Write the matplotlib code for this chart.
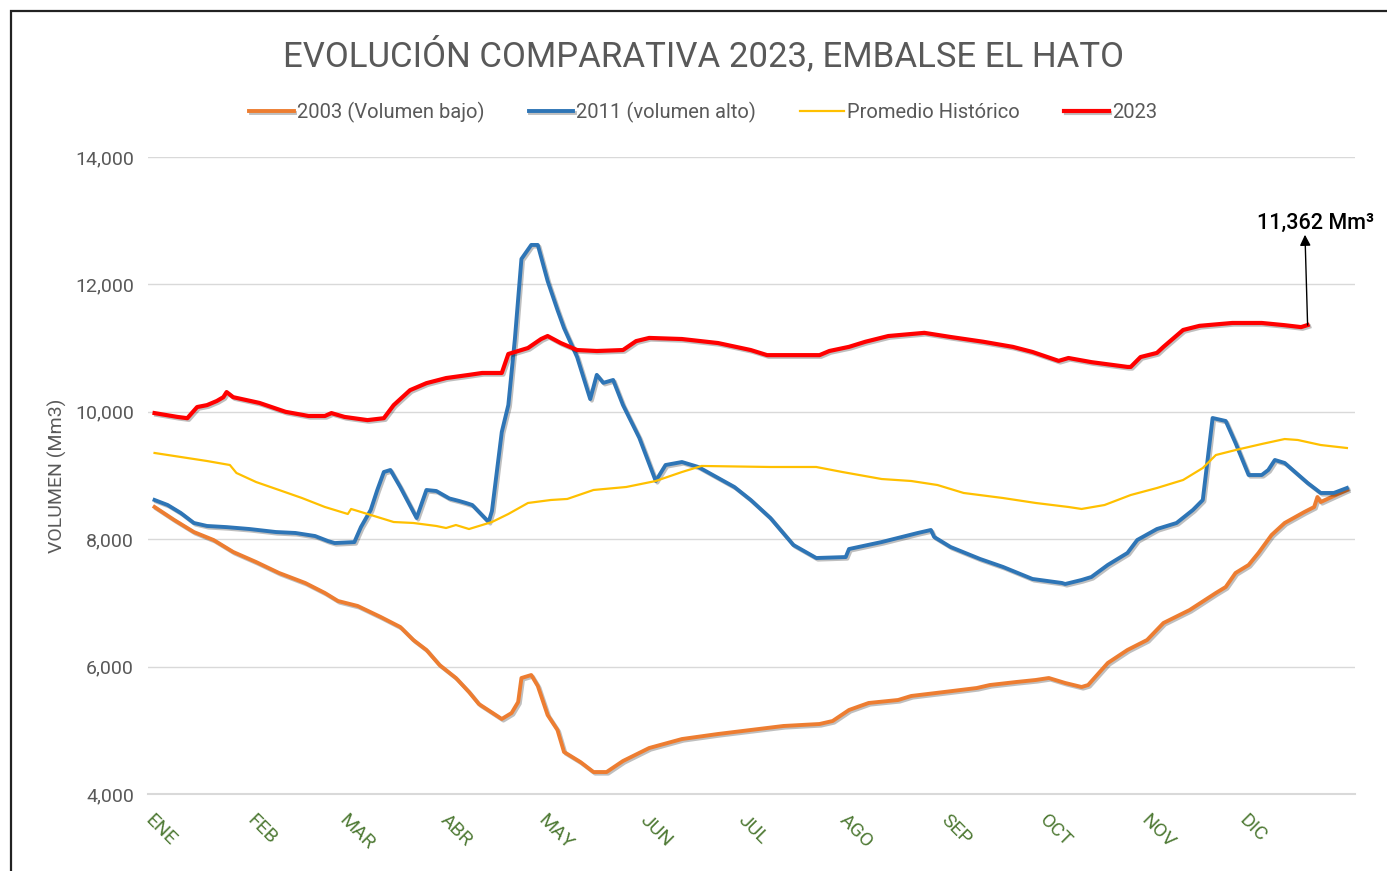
import matplotlib
matplotlib.use("Agg")
import matplotlib.pyplot as plt
import matplotlib.patheffects as pe
import matplotlib.transforms as mtrans
from matplotlib.patches import Rectangle

# day-of-year (0 = 1 ENE) and volume (Mm3)
dias_2003 = [0, 6, 12, 18, 24, 31, 38, 46, 52, 56, 62, 69, 75, 79, 83, 87, 92, 96,
             99, 106, 109, 111, 112, 115, 117, 120, 123, 125, 130, 134, 138, 143,
             151, 161, 172, 182, 192, 203, 207, 212, 218, 227, 231, 241, 251, 255,
             263, 269, 273, 278, 283, 285, 291, 297, 303, 308, 316, 324, 327, 330,
             334, 337, 341, 345, 351, 354, 355, 356, 364]
vol_2003 = [8506, 8302, 8113, 7988, 7800, 7642, 7470, 7313, 7156, 7030, 6952, 6780,
            6622, 6418, 6261, 6025, 5821, 5601, 5413, 5178, 5272, 5444, 5821, 5868,
            5696, 5240, 5005, 4660, 4502, 4345, 4345, 4518, 4722, 4863, 4942, 5005,
            5068, 5099, 5146, 5319, 5429, 5476, 5539, 5601, 5664, 5711, 5758, 5790,
            5821, 5743, 5680, 5711, 6057, 6261, 6418, 6685, 6889, 7156, 7250, 7470,
            7596, 7784, 8066, 8255, 8427, 8506, 8663, 8584, 8773]

dias_2011 = [0, 4, 8, 12, 16, 22, 29, 37, 43, 49, 53, 55, 61, 63, 66, 68, 70, 72,
             75, 80, 83, 86, 90, 93, 95, 97, 102, 103, 106, 108, 110, 112, 115, 117,
             120, 123, 125, 129, 133, 135, 137, 140, 143, 148, 153, 156, 161, 166,
             177, 182, 188, 195, 202, 211, 212, 222, 233, 237, 238, 243, 252, 259,
             268, 277, 278, 283, 286, 291, 297, 300, 306, 312, 317, 320, 323, 327,
             330, 334, 338, 340, 342, 345, 352, 356, 360, 364]
vol_2011 = [8616, 8537, 8412, 8255, 8208, 8190, 8160, 8113, 8098, 8050, 7970, 7940,
            7955, 8190, 8460, 8773, 9055, 9087, 8820, 8333, 8773, 8757, 8640, 8600,
            8570, 8537, 8270, 8443, 9683, 10107, 11143, 12400, 12620, 12620, 12054,
            11600, 11316, 10860, 10200, 10580, 10455, 10500, 10107, 9590, 8914, 9165,
            9212, 9134, 8820, 8616, 8333, 7910, 7705, 7720, 7846, 7956, 8098, 8145,
            8035, 7878, 7690, 7565, 7376, 7313, 7297, 7360, 7407, 7596, 7784, 7988,
            8160, 8255, 8460, 8616, 9903, 9856, 9510, 9008, 9008, 9087, 9244, 9197,
            8883, 8726, 8726, 8804]

dias_prom = [0, 8, 16, 23, 25, 31, 38, 45, 52, 59, 60, 67, 73, 79, 86, 89, 92, 96,
             103, 108, 114, 121, 126, 134, 144, 153, 161, 167, 188, 202, 210, 222,
             231, 239, 247, 259, 269, 279, 283, 290, 298, 306, 314, 320, 324, 330,
             338, 345, 349, 356, 364]
vol_prom = [9354, 9291, 9228, 9165, 9040, 8898, 8773, 8647, 8506, 8396, 8475, 8365,
            8270, 8255, 8208, 8176, 8223, 8160, 8270, 8396, 8569, 8616, 8632, 8773,
            8820, 8914, 9055, 9150, 9134, 9134, 9055, 8945, 8914, 8851, 8726, 8647,
            8569, 8506, 8475, 8537, 8694, 8804, 8930, 9118, 9322, 9400, 9495, 9573,
            9558, 9479, 9432]

dias_2023 = [0, 7, 10, 13, 16, 19, 21, 22, 24, 28, 32, 40, 47, 52, 54, 58, 65, 70,
             73, 78, 83, 89, 96, 100, 106, 108, 114, 118, 120, 124, 129, 135, 143,
             147, 151, 161, 172, 182, 187, 203, 206, 212, 217, 224, 235, 243, 253,
             262, 268, 276, 279, 286, 297, 298, 301, 306, 308, 314, 319, 329, 338,
             345, 350, 352]
vol_2023 = [9980, 9920, 9900, 10075, 10105, 10170, 10230, 10310, 10230, 10185, 10140,
            10000, 9935, 9935, 9980, 9920, 9870, 9900, 10105, 10340, 10450, 10530,
            10580, 10610, 10610, 10908, 11002, 11143, 11190, 11080, 10970, 10955,
            10970, 11110, 11160, 11143, 11080, 10970, 10890, 10890, 10955, 11020,
            11100, 11190, 11240, 11175, 11100, 11020, 10940, 10800, 10845, 10780,
            10705, 10705, 10860, 10925, 11020, 11285, 11350, 11395, 11395, 11360,
            11330, 11362]

meses = ["ENE", "FEB", "MAR", "ABR", "MAY", "JUN", "JUL", "AGO", "SEP", "OCT", "NOV", "DIC"]
inicio_mes = [0, 31, 59, 90, 120, 151, 181, 212, 243, 273, 304, 334]
y_ticks = [4000, 6000, 8000, 10000, 12000, 14000]

GRIS = "#595959"
plt.rcParams["font.family"] = ["Roboto", "DejaVu Sans"]

fig = plt.figure(figsize=(13.87, 8.71), dpi=100)
fig.patches.append(Rectangle((11 / 1387, -0.05), 1.2, 1 - 11 / 871 + 0.05,
                             transform=fig.transFigure, fill=False,
                             edgecolor="#222222", lw=1.6, zorder=10))
ax = fig.add_axes([0.1067, 0.0884, 0.8703, 0.7313])

sombra = [pe.SimpleLineShadow(offset=(1.2, -1.2), alpha=0.25, shadow_color="black"), pe.Normal()]
ax.plot(dias_2003, vol_2003, color="#ED7D31", lw=2.8, label="2003 (Volumen bajo)",
        path_effects=sombra, solid_joinstyle="round")
ax.plot(dias_2011, vol_2011, color="#2E75B6", lw=2.8, label="2011 (volumen alto)",
        path_effects=sombra, solid_joinstyle="round")
ax.plot(dias_prom, vol_prom, color="#FFC000", lw=1.6, label="Promedio Histórico")
ax.plot(dias_2023, vol_2023, color="#FF0000", lw=3.0, label="2023",
        path_effects=sombra, solid_joinstyle="round")

# ultimo dato 2023
ax.annotate("", xy=(dias_2023[-1] - 0.8, 12780), xytext=(dias_2023[-1], vol_2023[-1]),
            arrowprops=dict(arrowstyle="-|>", color="black", lw=1, mutation_scale=16,
                            shrinkA=0, shrinkB=0))
ax.text(dias_2023[-1] + 2.5, 12800, f"{vol_2023[-1]:,} Mm³", ha="center", va="bottom",
        fontsize=15.5, fontweight="medium", color="black")

ax.set_xlim(-2, 366.5)
ax.set_ylim(4000, 14000)
ax.set_yticks(y_ticks)
ax.set_yticklabels([f"{v:,}" for v in y_ticks], color=GRIS, fontsize=14)
ax.set_xticks(inicio_mes)
ax.set_xticklabels(meses, rotation=-45, ha="left", va="top", rotation_mode="anchor",
                   color="#4F7A35", fontsize=14)
desplaza = mtrans.ScaledTranslation(8 / 100, 0, fig.dpi_scale_trans)
for lab in ax.get_xticklabels():
    lab.set_transform(lab.get_transform() + desplaza)
ax.tick_params(axis="both", length=0)
ax.tick_params(axis="x", pad=12)
ax.tick_params(axis="y", pad=10)
ax.grid(axis="y", color="#D9D9D9", lw=1)
ax.set_axisbelow(True)
for s in ["top", "right", "left"]:
    ax.spines[s].set_visible(False)
ax.spines["bottom"].set_color("#D9D9D9")
ax.spines["bottom"].set_linewidth(1.5)
ax.set_ylabel("VOLUMEN (Mm3)", color=GRIS, fontsize=14, labelpad=6)

fig.text(0.507, 0.937, "EVOLUCIÓN COMPARATIVA 2023, EMBALSE EL HATO", ha="center",
         va="center", fontsize=25, color=GRIS)
fig.legend(loc="center", bbox_to_anchor=(0.507, 0.871), ncol=4, frameon=False,
           fontsize=14.5, handlelength=2.2, handletextpad=0.15, columnspacing=2.2,
           labelcolor=GRIS)

fig.savefig("out.png", dpi=100, facecolor="white")
